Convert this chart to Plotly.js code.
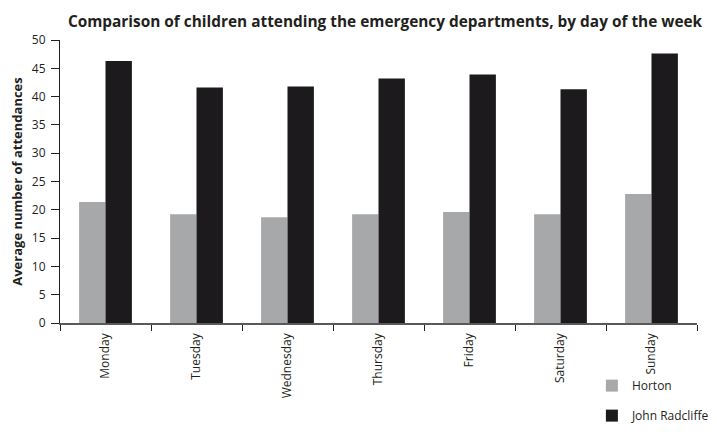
<!DOCTYPE html>
<html>
<head>
<meta charset="utf-8">
<script src="https://cdn.plot.ly/plotly-3.0.1.min.js"></script>
<style>html,body{margin:0;padding:0;background:#fff;}#chart{width:717px;height:432px;}</style>
</head>
<body>
<div id="chart"></div>
<script>
const days = ["Monday", "Tuesday", "Wednesday", "Thursday", "Friday", "Saturday", "Sunday"];
const horton = [21.4, 19.2, 18.7, 19.2, 19.6, 19.2, 22.8];
const johnRadcliffe = [46.3, 41.6, 41.8, 43.2, 43.9, 41.3, 47.6];
const yTicks = [0, 5, 10, 15, 20, 25, 30, 35, 40, 45, 50];

const font = "'Open Sans', 'Noto Sans', sans-serif";
const textColor = "#231f20";

const traces = [
  {type: "bar", name: "Horton", x: days, y: horton, marker: {color: "#a7a8aa", line: {width: 0}}, legendgroup: "a"},
  {type: "bar", name: "John Radcliffe", x: days, y: johnRadcliffe, marker: {color: "#1c1a1c", line: {width: 0}}, legendgroup: "b"}
];

const layout = {
  width: 717, height: 432,
  margin: {l: 60, r: 2, t: 40, b: 106},
  paper_bgcolor: "#fff", plot_bgcolor: "#fff",
  font: {family: font, color: textColor, size: 12},
  title: {text: "<b>Comparison of children attending the emergency departments, by day of the week</b>",
          font: {family: font, size: 15.4, color: textColor}, x: 0.537, xanchor: "center", y: 0.95, yanchor: "middle"},
  barmode: "group", bargap: 0.42, bargroupgap: 0,
  xaxis: {type: "category", showline: true, linecolor: "#58595b", linewidth: 1.5,
          ticks: "outside", tickson: "boundaries", ticklen: 6, tickcolor: "#231f20", tickwidth: 1,
          tickangle: -90, tickfont: {family: font, size: 12, color: textColor}, ticklabelstandoff: 4,
          showgrid: false, zeroline: false, fixedrange: true},
  yaxis: {range: [0, 50], tickvals: yTicks, ticktext: yTicks.map(String), showline: true, linecolor: "#231f20", linewidth: 1,
          ticks: "outside", ticklen: 8, tickcolor: "#231f20", showgrid: false, zeroline: false,
          tickfont: {family: font, size: 12, color: textColor}, ticklabelstandoff: 3,
          title: {text: "<b>Average number of attendances</b>", font: {family: font, size: 13, color: textColor}, standoff: 6}},
  showlegend: true,
  legend: {x: 0.835, y: -0.17, xanchor: "left", yanchor: "top", traceorder: "grouped", tracegroupgap: 11,
           font: {family: font, size: 12, color: textColor}, bgcolor: "rgba(0,0,0,0)", itemwidth: 30}
};

Plotly.newPlot("chart", traces, layout, {displayModeBar: false, staticPlot: true});
</script>
</body>
</html>
